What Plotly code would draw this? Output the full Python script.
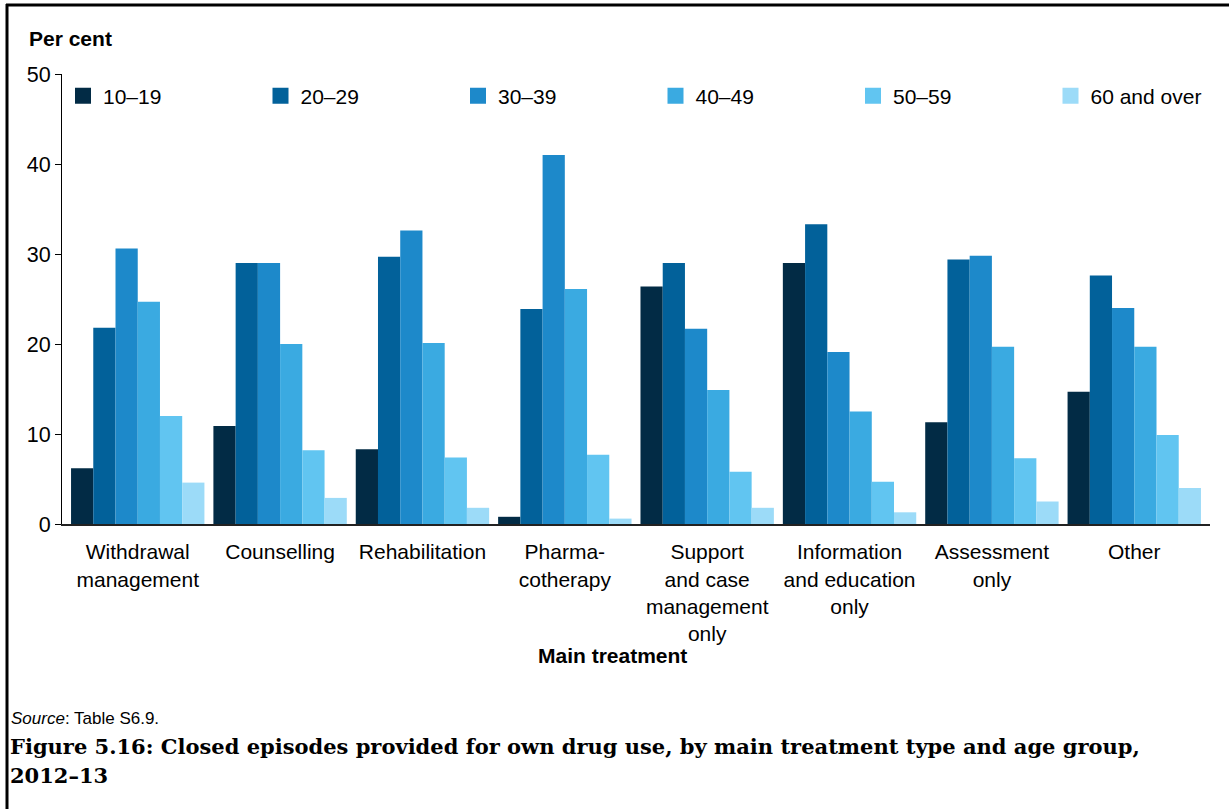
import plotly.graph_objects as go

categories = ["Withdrawal<br>management", "Counselling", "Rehabilitation", "Pharma-<br>cotherapy",
              "Support<br>and case<br>management<br>only", "Information<br>and education<br>only",
              "Assessment<br>only", "Other"]
age_groups = ["10–19", "20–29", "30–39", "40–49", "50–59", "60 and over"]
v_10_19 = [6.2, 10.9, 8.3, 0.8, 26.4, 29.0, 11.3, 14.7]
v_20_29 = [21.8, 29.0, 29.7, 23.9, 29.0, 33.3, 29.4, 27.6]
v_30_39 = [30.6, 29.0, 32.6, 41.0, 21.7, 19.1, 29.8, 24.0]
v_40_49 = [24.7, 20.0, 20.1, 26.1, 14.9, 12.5, 19.7, 19.7]
v_50_59 = [12.0, 8.2, 7.4, 7.7, 5.8, 4.7, 7.3, 9.9]
v_60_over = [4.6, 2.9, 1.8, 0.6, 1.8, 1.3, 2.5, 4.0]
series = [v_10_19, v_20_29, v_30_39, v_40_49, v_50_59, v_60_over]
colors = ["#022b45", "#02619a", "#1d89ca", "#3aaae1", "#61c5f1", "#9cdbf8"]

y_ticks = [0, 10, 20, 30, 40, 50]

FONT = "Liberation Sans, Arial, sans-serif"
W, H = 1229, 809


def fx(x):
    return x / W


def fy(y):
    return 1 - y / H


fig = go.Figure()
for name, vals, col in zip(age_groups, series, colors):
    fig.add_trace(go.Bar(x=categories, y=vals, name=name, marker_color=col,
                         marker_line_width=0, showlegend=False))
# legend entries (larger square swatches)
for name, col in zip(age_groups, colors):
    fig.add_trace(go.Scatter(x=[None], y=[None], mode="markers", name=name,
                             marker=dict(symbol="square", size=16, color=col),
                             showlegend=True))

shapes = [
    dict(type="line", xref="paper", yref="paper", x0=fx(6), x1=fx(1229), y0=fy(5), y1=fy(5),
         line=dict(color="black", width=3)),
    dict(type="line", xref="paper", yref="paper", x0=fx(7), x1=fx(7), y0=fy(4), y1=fy(809),
         line=dict(color="black", width=3)),
]

annotations = [
    dict(text="<b>Per cent</b>", xref="paper", yref="paper", x=fx(27), y=fy(38), xanchor="left",
         yanchor="middle", showarrow=False, font=dict(family=FONT, size=21, color="black")),
    dict(text="<b>Main treatment</b>", xref="paper", yref="paper", x=fx(612), y=fy(655),
         xanchor="center", yanchor="middle", showarrow=False,
         font=dict(family=FONT, size=21, color="black")),
    dict(text="<i>Source</i>: Table S6.9.", xref="paper", yref="paper", x=fx(9), y=fy(718),
         xanchor="left", yanchor="middle", showarrow=False,
         font=dict(family=FONT, size=17, color="black")),
    dict(text="<b>Figure 5.16: Closed episodes provided for own drug use, by main treatment type and age group,</b>",
         xref="paper", yref="paper", x=fx(8), y=fy(746), xanchor="left", yanchor="middle",
         showarrow=False, font=dict(family="DejaVu Serif, serif", size=21, color="black")),
    dict(text="<b>2012–13</b>",
         xref="paper", yref="paper", x=fx(8), y=fy(775), xanchor="left", yanchor="middle",
         showarrow=False, font=dict(family="DejaVu Serif, serif", size=21, color="black")),
]

fig.update_layout(
    width=W, height=H,
    margin=dict(l=0, r=0, t=0, b=0, autoexpand=False),
    paper_bgcolor="white", plot_bgcolor="white",
    barmode="group", bargap=0.063, bargroupgap=0,
    font=dict(family=FONT, size=21, color="black"),
    showlegend=True,
    legend=dict(orientation="h", x=fx(63), xanchor="left", y=fy(96), yanchor="middle",
                entrywidth=152.5, entrywidthmode="pixels", font=dict(family=FONT, size=21),
                bgcolor="rgba(0,0,0,0)", traceorder="normal", itemsizing="trace"),
    shapes=shapes, annotations=annotations,
)
fig.update_xaxes(type="category", domain=[fx(62), fx(1210)], range=[-0.532, 7.532],
                 showline=True, linecolor="#222", linewidth=2,
                 ticks="outside", ticklen=8, tickcolor="rgba(0,0,0,0)", showgrid=False,
                 tickfont=dict(family=FONT, size=21), fixedrange=True)
fig.update_yaxes(domain=[fy(524), fy(74)], range=[0, 50], tickvals=y_ticks, showline=True,
                 linecolor="black", linewidth=1,
                 ticks="outside", ticklen=6, tickcolor="black", showgrid=False, zeroline=False,
                 tickfont=dict(family=FONT, size=21.5), fixedrange=True)

fig.write_html("out.html", config={"displayModeBar": False},
               post_script="document.body.style.margin='0px';")
